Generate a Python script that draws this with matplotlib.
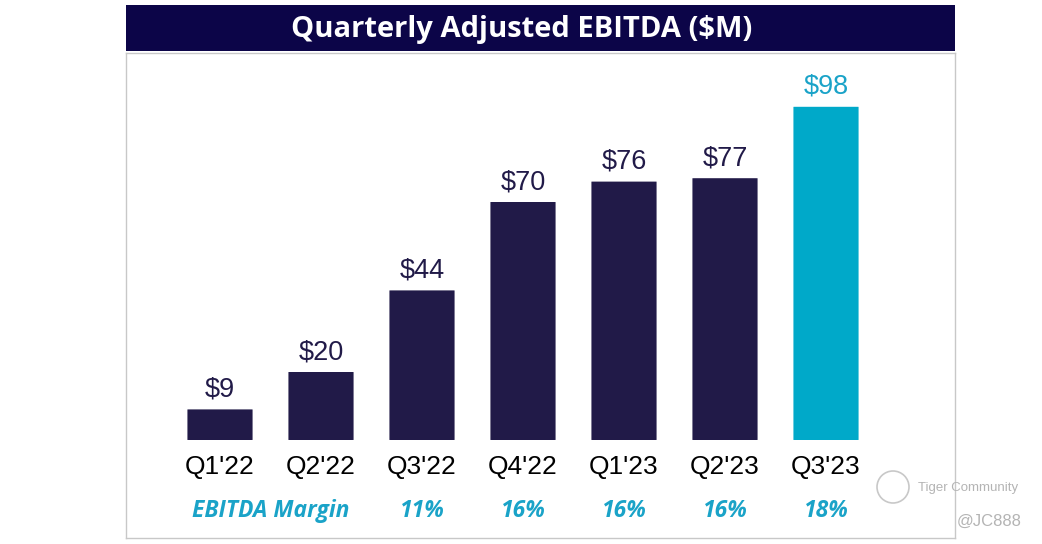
import matplotlib
matplotlib.use("Agg")
import matplotlib.pyplot as plt
from matplotlib.patches import FancyBboxPatch, Rectangle, Ellipse

quarters = ["Q1'22", "Q2'22", "Q3'22", "Q4'22", "Q1'23", "Q2'23", "Q3'23"]
ebitda = [9, 20, 44, 70, 76, 77, 98]
value_labels = ["$9", "$20", "$44", "$70", "$76", "$77", "$98"]
margin_idx = [2, 3, 4, 5, 6]
margins = ["11%", "16%", "16%", "16%", "18%"]
title = "Quarterly Adjusted EBITDA ($M)"

W, H = 1042, 544
fig = plt.figure(figsize=(W / 100, H / 100), dpi=100)
fig.patch.set_facecolor("white")

navy = "#211a48"
teal_bar = "#00a9c9"
teal_txt = "#1aa3c8"

# title banner
fig.patches.append(Rectangle((126 / W, 1 - 51 / H), (955 - 126) / W, 46 / H,
                             transform=fig.transFigure, facecolor="#0c0548",
                             edgecolor="none"))
fig.text(521.5 / W, 1 - 30 / H, title, color="white",
         fontsize=21, fontweight="bold", family="Open Sans",
         ha="center", va="center")

# main axes
ax = fig.add_axes([126 / W, (H - 538) / H, (955 - 126) / W, (538 - 53) / H])
px_per_unit_x = 101.0
x0 = 220.0
ax.set_xlim((126 - x0) / px_per_unit_x, (955 - x0) / px_per_unit_x)
ppu = 3.4
ax.set_ylim(-(538 - 440) / ppu, (440 - 53) / ppu)
for s in ax.spines.values():
    s.set_color("#c8c8c8")
    s.set_linewidth(1.0)
ax.set_xticks([])
ax.set_yticks([])

bw = 0.645
for i, v in enumerate(ebitda):
    c = teal_bar if i == len(ebitda) - 1 else navy
    ax.add_patch(FancyBboxPatch((i - bw / 2, 0), bw, v,
                                boxstyle="round,pad=0,rounding_size=0.02",
                                mutation_aspect=1.0,
                                facecolor=c, edgecolor="none"))
    ax.annotate(value_labels[i], (i, v), xytext=(0, 5), textcoords="offset points",
                ha="center", va="bottom", fontsize=19.5, family="Liberation Sans",
                color=teal_txt if i == len(ebitda) - 1 else navy)
    ax.text(i, -(467 - 440) / ppu, quarters[i], ha="center", va="center",
            fontsize=19, family="Liberation Sans", color="black")

ymar = -(511 - 440) / ppu
ax.text(0.5, ymar, "EBITDA Margin", ha="center", va="center", fontsize=16.5,
        fontweight="bold", fontstyle="italic", family="Open Sans", color=teal_txt)
for i, m in zip(margin_idx, margins):
    ax.text(i, ymar, m, ha="center", va="center", fontsize=16.5,
            fontweight="bold", fontstyle="italic", family="Open Sans", color=teal_txt)

# watermark
fig.text(918 / W, 1 - 488 / H, "Tiger Community", color="#b4b4b4",
         fontsize=9.5, ha="left", va="center", family="Liberation Sans")
fig.text(1022 / W, 1 - 521 / H, "@JC888", color="#b4b4b4",
         fontsize=12, ha="right", va="center", family="Liberation Sans")
fig.patches.append(Ellipse((893 / W, 1 - 487 / H), 32 / W, 32 / H,
                           transform=fig.transFigure, fill=False,
                           edgecolor="#c8c8c8", linewidth=1.2))

fig.savefig("out.png", dpi=100)
